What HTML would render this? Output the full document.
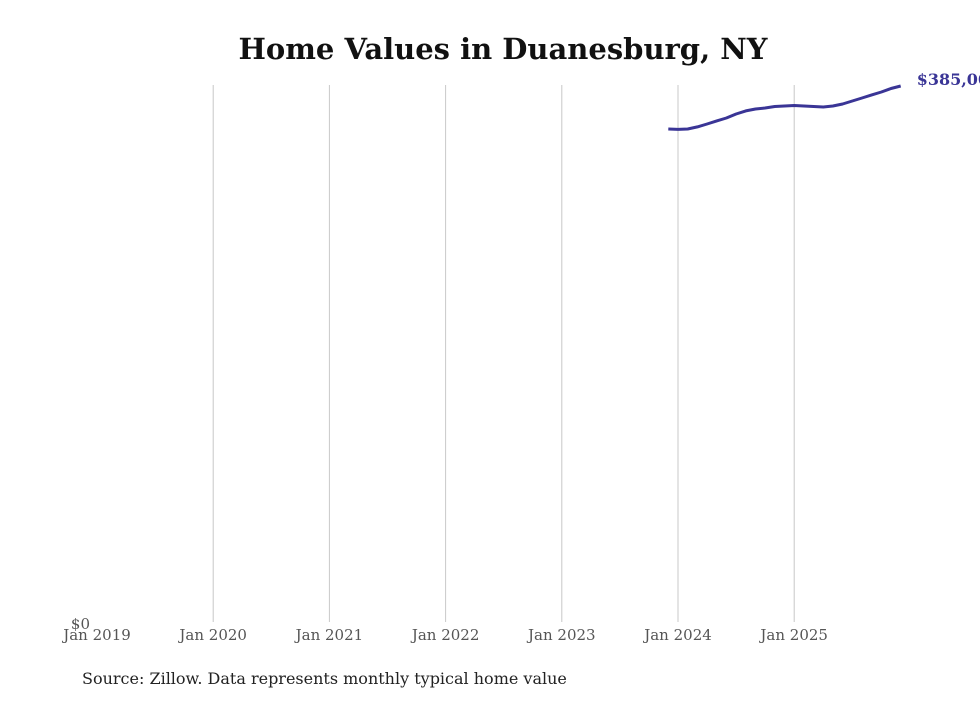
<!DOCTYPE html>
<html><head><meta charset="utf-8"><style>
body{margin:0;background:#fff;width:980px;height:699px;overflow:hidden;font-family:"DejaVu Serif","Liberation Serif",serif}
</style></head><body>
<svg id="chart" width="980" height="699" xmlns="http://www.w3.org/2000/svg">
<text x="503" y="59" text-anchor="middle" font-size="29" font-weight="bold" fill="#111" font-family="DejaVu Serif, serif">Home Values in Duanesburg, NY</text>
<g id="grid"></g><g id="xlabels"></g>
<text x="90" y="629" text-anchor="end" font-size="15" fill="#555">$0</text>
<path id="line" fill="none" stroke="#3a3596" stroke-width="3" stroke-linejoin="round"/>
<text id="endlabel" font-size="16" font-weight="bold" fill="#3a3596"></text>
<text x="82" y="684" font-size="16" fill="#222">Source: Zillow. Data represents monthly typical home value</text>
</svg>
<script>
const years=["Jan 2019","Jan 2020","Jan 2021","Jan 2022","Jan 2023","Jan 2024","Jan 2025"];
const startMonthIndex=59; // Dec 2023, months since Jan 2019
const values=[354100,353800,354100,355600,357700,359900,362000,364900,367100,368500,369200,370300,370600,371000,370600,370300,369900,370600,372100,374200,376400,378600,380700,383200,385000];
const endLabel="$385,000";
const x=m=>97+m*(116.2/12);
const y=v=>622-v/385000*536;
const ns="http://www.w3.org/2000/svg";
const g=document.getElementById('grid'),xl=document.getElementById('xlabels');
years.forEach((t,i)=>{
 const px=x(i*12);
 if(i>0){const l=document.createElementNS(ns,'line');
 l.setAttribute('x1',px);l.setAttribute('x2',px);l.setAttribute('y1',85);l.setAttribute('y2',622);
 l.setAttribute('stroke','#c8c8c8');l.setAttribute('stroke-width','1');
 
 
 g.appendChild(l);}
 const tx=document.createElementNS(ns,'text');
 tx.setAttribute('x',px);tx.setAttribute('y',640);tx.setAttribute('text-anchor','middle');
 tx.setAttribute('font-size','15');tx.setAttribute('fill','#555');tx.textContent=t;
 
 
 xl.appendChild(tx);
});
let d='';
values.forEach((v,i)=>{d+=(i?'L':'M')+x(startMonthIndex+i).toFixed(1)+','+y(v).toFixed(1);});
document.getElementById('line').setAttribute('d',d);
const el=document.getElementById('endlabel');
el.setAttribute('x',x(startMonthIndex+values.length-1)+16);
el.setAttribute('y',y(values[values.length-1])-1);
el.textContent=endLabel;
</script>
</body></html>
